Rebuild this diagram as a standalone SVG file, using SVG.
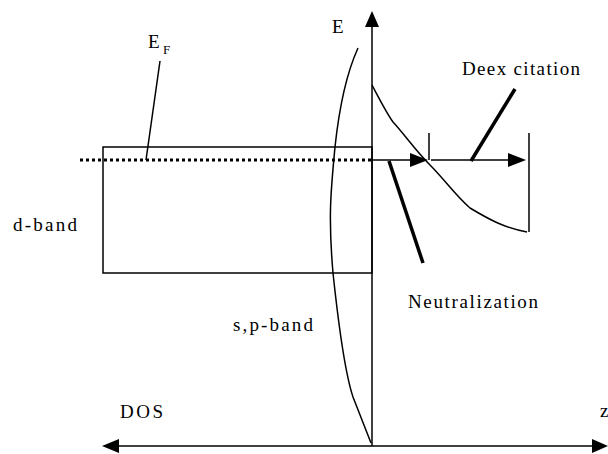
<svg xmlns="http://www.w3.org/2000/svg" width="608" height="454" viewBox="0 0 608 454">
<style>
text{font-family:"Liberation Serif","DejaVu Serif","Times New Roman",serif;font-size:19px;fill:#000}
.ln{stroke:#000;stroke-width:1.5;fill:none}
.bold{stroke:#000;stroke-width:3.5;fill:none}
.hd{fill:#000}
</style>
<rect width="608" height="454" fill="#fff"/>
<g id="axes">
<line class="ln" x1="372" y1="24" x2="372" y2="446"/>
<polygon class="hd" points="372,11 365,27 379,27"/>
<line class="ln" x1="118" y1="446" x2="594" y2="446"/>
<polygon class="hd" points="102,446 119,439 119,453"/>
<polygon class="hd" points="608,446 592,439 592,453"/>
</g>
<g id="d-band-box">
<rect class="ln" x="103" y="147" width="269" height="126"/>
</g>
<g id="fermi-level">
<line x1="80" y1="160" x2="372" y2="160" stroke="#000" stroke-width="3" stroke-dasharray="3,3"/>
</g>
<g id="sp-band-curve">
<path class="ln" d="M358,48 C348,70 340,100 335,147 C331,190 328,215 333,273 C338,320 344,370 353,397 C360,415 366,430 371,443"/>
</g>
<g id="decay-curve">
<path class="ln" d="M372,85 C380,100 386,112 393,122 C405,135 415,150 430,165 C445,180 455,195 470,208 C490,220 505,228 527,232"/>
</g>
<g id="connectors">
<line class="ln" x1="372" y1="160" x2="414" y2="160"/>
<polygon class="hd" points="428,160 410,153 410,167"/>
<line class="ln" x1="429" y1="133" x2="429" y2="160"/>
<line class="ln" x1="431" y1="160" x2="512" y2="160"/>
<polygon class="hd" points="526,160 508,153 508,167"/>
<line class="ln" x1="529" y1="133" x2="529" y2="232"/>
<line class="bold" x1="515" y1="89" x2="471" y2="161"/>
<line class="bold" x1="389" y1="161" x2="423" y2="263"/>
<line class="ln" x1="160" y1="61" x2="146" y2="160"/>
</g>
<g id="labels">
<text x="332" y="33">E</text>
<text x="148" y="48">E</text>
<text x="163" y="54" style="font-size:13px">F</text>
<text x="462" y="75" textLength="118" lengthAdjust="spacing">Deex citation</text>
<text x="408" y="308" textLength="130" lengthAdjust="spacing">Neutralization</text>
<text x="13" y="231" textLength="64" lengthAdjust="spacing">d-band</text>
<text x="233" y="331" textLength="80" lengthAdjust="spacing">s,p-band</text>
<text x="120" y="418" textLength="43" lengthAdjust="spacing">DOS</text>
<text x="600" y="417">z</text>
</g>
</svg>
